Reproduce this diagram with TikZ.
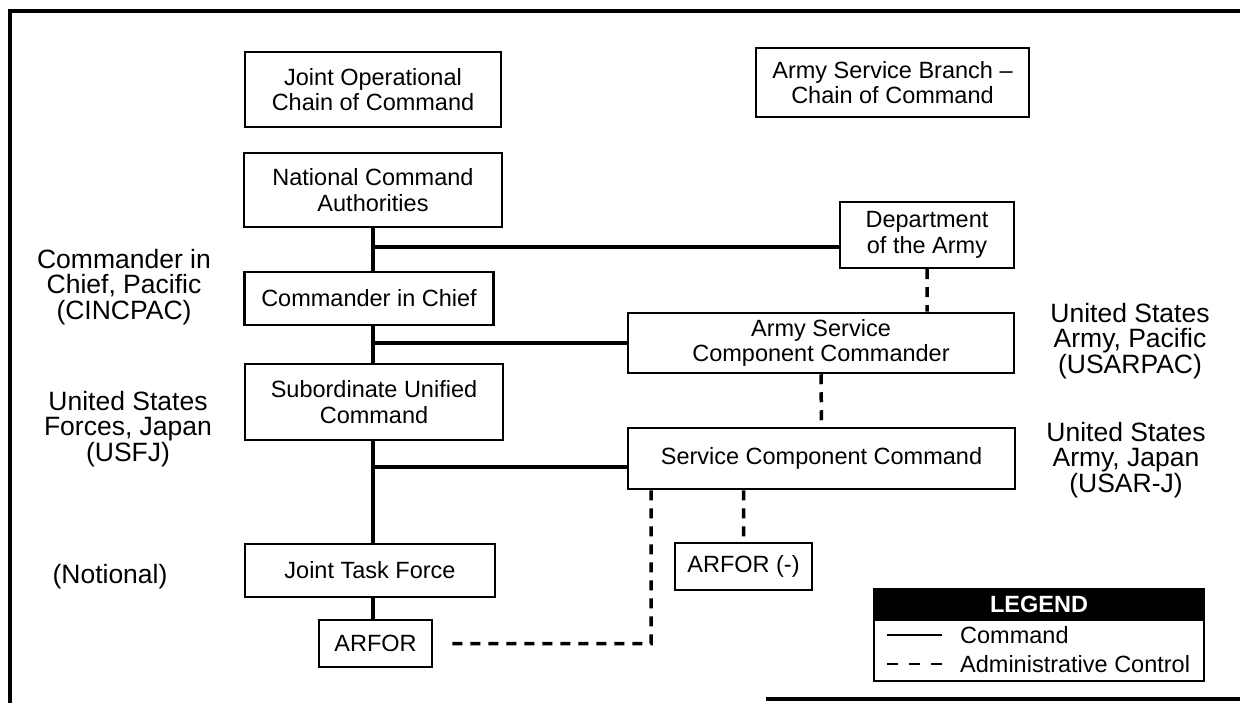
\documentclass[tikz,border=0pt]{standalone}
\usepackage{fontspec}
\setmainfont{Liberation Sans}
\begin{document}
\begin{tikzpicture}[x=1pt, y=-1pt]
  \tikzstyle{every node}=[font=\fontsize{23.5}{25.5}\selectfont, align=center, inner sep=0pt]
  \tikzstyle{unit}=[draw, line width=2.5pt]
  \tikzstyle{side}=[font=\fontsize{26.5}{25.5}\selectfont]
  \tikzstyle{cmd}=[line width=3.5pt]
  \tikzstyle{adm}=[line width=3.5pt, dash pattern=on 10pt off 8pt]
  \useasboundingbox (0,0) rectangle (1240,703);

  % frame of the page
  \draw[line width=4.5pt] (10,703) -- (10,11) -- (1240,11);
  \draw[line width=4.5pt] (766,699) -- (1240,699);

  % headings
  \path (373,89.5) node[unit, minimum width=256pt, minimum height=75pt] (jocc) {Joint Operational\\Chain of Command};
  \path (892.5,82.5) node[unit, minimum width=273pt, minimum height=69pt] (asbc) {Army Service Branch --\\Chain of Command};

  % joint chain
  \path (373,190) node[unit, minimum width=258pt, minimum height=74pt] (nca) {National Command\\Authorities};
  \path (369,298.5) node[unit, minimum width=249pt, minimum height=53pt] (cic) {Commander in Chief};
  \path (374,402) node[unit, minimum width=258pt, minimum height=76pt] (suc) {Subordinate Unified\\Command};
  \path (370,570.5) node[unit, minimum width=250pt, minimum height=53pt] (jtf) {Joint Task Force};
  \path (375.5,643.5) node[unit, minimum width=113pt, minimum height=47pt] (arfor) {ARFOR};

  % army chain
  \path (927,235) node[unit, minimum width=174pt, minimum height=66pt] (doa) {Department\\of the Army};
  \path (821,343) node[unit, minimum width=386pt, minimum height=60pt] (ascc) {Army Service\\Component Commander};
  \path (821.5,458.5) node[unit, minimum width=387pt, minimum height=61pt] (scc) {Service Component Command};
  \path (743.5,566.5) node[unit, minimum width=137pt, minimum height=47pt] (arform) {ARFOR (-)};

  % side labels
  \path (124,287) node[side] (cincpac) {Commander in\\Chief, Pacific\\(CINCPAC)};
  \path (128,429) node[side] (usfj) {United States\\Forces, Japan\\(USFJ)};
  \path (110,577) node[side] (notional) {(Notional)};
  \path (1130,341) node[side] (usarpac) {United States\\Army, Pacific\\(USARPAC)};
  \path (1126,460) node[side] (usarj) {United States\\Army, Japan\\(USAR-J)};

  % command lines
  \draw[cmd]
    (nca.south) -- (nca.south |- cic.north)
    (nca.south |- cic.south) -- (nca.south |- suc.north)
    (nca.south |- suc.south) -- (nca.south |- jtf.north)
    (nca.south |- jtf.south) -- (nca.south |- arfor.north)
    ([yshift=-12pt]doa.west) -- ([yshift=-12pt]doa.west -| nca.south)
    (ascc.west) -- (ascc.west -| nca.south)
    ([yshift=-8.5pt]scc.west) -- ([yshift=-8.5pt]scc.west -| nca.south);

  % administrative control
  \draw[adm]
    (doa.south) -- (doa.south |- ascc.north)
    (ascc.south) -- (scc.north)
    (arform.north |- scc.south) -- (arform.north)
    ([xshift=-170.5pt]scc.south) |- ([xshift=13pt]arfor.east);

  % legend
  \path (1039,604.5) node[fill=black, draw, line width=2pt, minimum width=330pt, minimum height=31pt, text=white, font=\fontsize{23.5}{25.5}\selectfont\bfseries] (leghead) {LEGEND};
  \path (1039,650.5) node[draw, line width=2pt, minimum width=330pt, minimum height=61pt] (legbox) {};
  \path (960,635) node[anchor=west] (lcmd) {Command};
  \path (960,664) node[anchor=west] (ladm) {Administrative Control};
  \draw[line width=2.5pt] ([xshift=-18pt]lcmd.west) -- ++(-55,0);
  \draw[line width=2.5pt, dash pattern=on 11pt off 11pt] ([xshift=-18pt]ladm.west) -- ++(-55,0);
\end{tikzpicture}
\end{document}
